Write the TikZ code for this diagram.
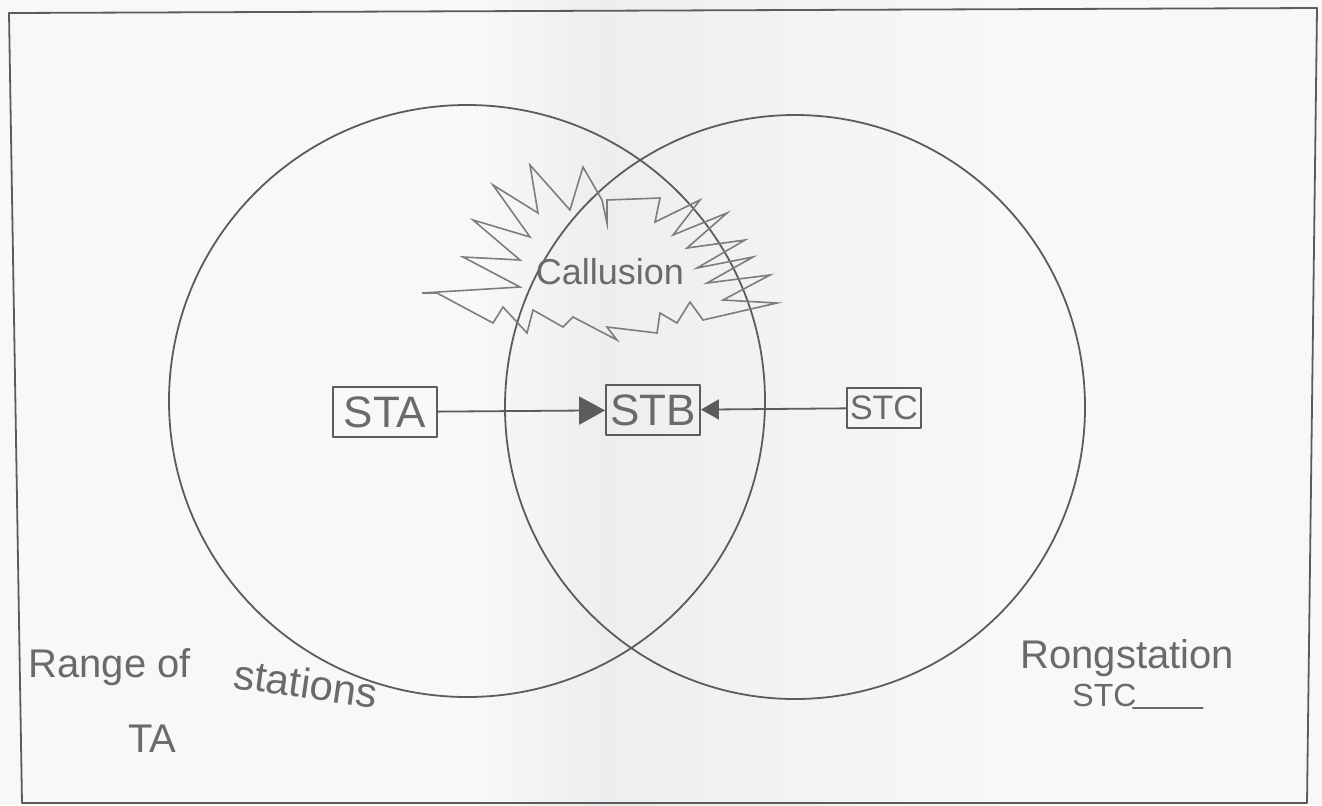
\documentclass[tikz,border=0pt]{standalone}
\usepackage{fontspec}
\setmainfont{Liberation Sans}
\usetikzlibrary{arrows.meta}
\definecolor{pencil}{HTML}{5C5C5C}
\definecolor{ink}{HTML}{6A6A6A}
\definecolor{paper}{HTML}{F8F8F9}
\definecolor{shadow}{HTML}{EEEEEF}
\begin{document}
\begin{tikzpicture}[x=0.5pt,y=-0.5pt,
  pencil/.style={draw=pencil,line width=0.9pt,line join=round,line cap=round},
  zig/.style={draw=pencil!80,line width=0.8pt,line join=miter,line cap=round},
  station/.style={pencil,inner sep=1pt,text=ink,font=\fontsize{22}{24}\selectfont},
  hand/.style={text=ink,inner sep=0pt}]
\useasboundingbox (0,0) rectangle (1322,805);
\fill[paper] (0,0) rectangle (1322,805);
\shade[left color=paper,right color=shadow] (480,0) rectangle (600,805);
\shade[left color=shadow,right color=paper] (600,0) rectangle (1000,805);
% frame
\draw[pencil] (9,13) -- (1317,8) -- (1307,803) -- (22,803) -- cycle;
% ranges
\draw[pencil] (467,401) ellipse [x radius=298,y radius=296];
\draw[pencil] (795,407) ellipse [x radius=290,y radius=292];
% collision burst
\draw[zig] (493,185) -- (538,213) -- (530,165) -- (570,210) -- (583,167) -- (602,200)
  -- (607,223) -- (607,200) -- (660,198) -- (655,222) -- (700,200) -- (673,235)
  -- (727,213) -- (687,248) -- (745,240) -- (697,268) -- (753,257) -- (707,283)
  -- (770,275) -- (723,300) -- (777,303) -- (703,320) -- (690,302) -- (677,323)
  -- (660,313) -- (657,333) -- (607,327) -- (617,340) -- (573,317) -- (563,327)
  -- (533,310) -- (527,333) -- (503,307) -- (493,323) -- (437,293) -- (422,293)
  -- (520,287) -- (463,257) -- (520,260) -- (473,220) -- (530,237) -- cycle;
\node[hand,font=\fontsize{18}{20}\selectfont] (col) at (610,272) {Callusion};
% stations
\node[station,minimum width=52pt,minimum height=25pt] (sta) at (385,412) {STA};
\node[station,minimum width=47pt,minimum height=25pt] (stb) at (653,410) {STB};
\node[station,minimum width=37pt,minimum height=20pt,font=\fontsize{17}{19}\selectfont] (stc) at (884,408) {STC};
\draw[pencil,-{Triangle[length=13pt,width=14pt]}] (sta) -- (stb);
\draw[pencil,-{Triangle[length=9pt,width=10pt]}] (stc) -- (stb);
% labels
\node[hand,font=\fontsize{20}{22}\selectfont,anchor=base west] (r1) at (28,677) {Range of};
\node[hand,font=\fontsize{21}{23}\selectfont,anchor=base west,rotate=-8] (r2) at (232,688) {stations};
\node[hand,font=\fontsize{20}{22}\selectfont,anchor=base west] (ta) at (128,752) {TA};
\node[hand,font=\fontsize{20}{22}\selectfont,anchor=base west] (rs) at (1020,668) {Rongstation};
\node[hand,font=\fontsize{16}{18}\selectfont,anchor=base west] (stc2) at (1072,706) {STC};
\draw[draw=ink,line width=0.8pt,line cap=round] (stc2.base east) ++(-4,2) coordinate (ul) -- ++(70,0) coordinate (ulend);
\end{tikzpicture}
\end{document}
